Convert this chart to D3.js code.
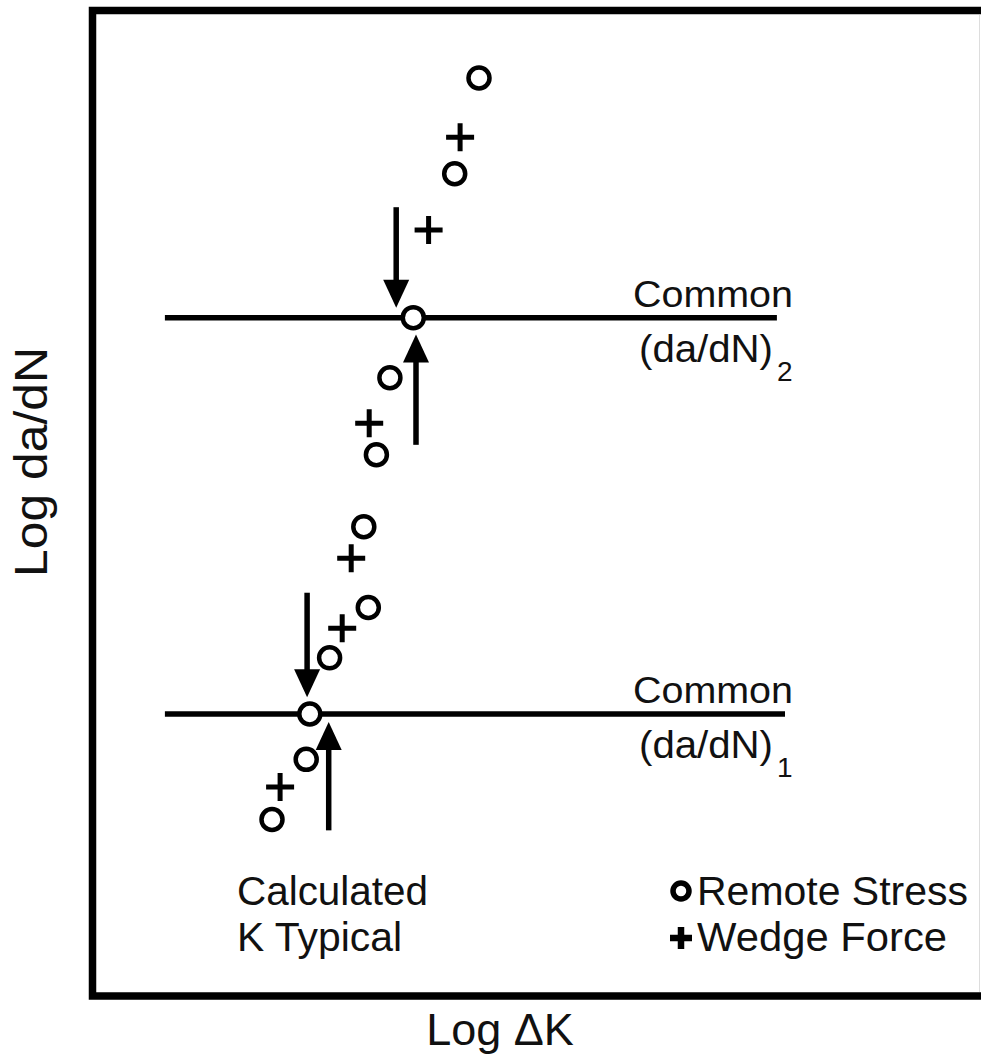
<!DOCTYPE html>
<html>
<head>
<meta charset="utf-8">
<script src="https://cdn.jsdelivr.net/npm/d3@7"></script>
<style>
  body { margin: 0; background: #fff; }
  text { font-family: "Liberation Sans", Arial, sans-serif; fill: #111; }
</style>
</head>
<body>
<div id="chart"></div>
<script>
// arbitrary log units, 0..100 on both axes
const remoteX = [43.0, 40.3, 35.7, 33.1, 31.6, 30.2, 30.7, 26.4, 24.2, 23.8, 20.0];
const remoteY = [93.1, 83.4, 68.8, 62.7, 54.9, 47.6, 39.4, 34.3, 28.6, 24.0, 17.9];
const wedgeX = [40.9, 37.4, 30.8, 28.8, 27.8, 20.9];
const wedgeY = [87.1, 77.7, 58.1, 44.4, 37.3, 21.2];

const commonLevels = [68.8, 28.6];          // (da/dN)2, (da/dN)1
const commonStart = [8.1, 8.1];
const commonEnd = [76.1, 77.0];
const commonSubs = ["2", "1"];

// arrows: x, from y, to y (tip)
const arrowX = [33.8, 36.0, 23.9, 26.3];
const arrowFrom = [80.0, 55.9, 40.9, 16.8];
const arrowTo = [69.8, 67.1, 30.3, 27.8];

const width = 981;
const height = 1061;

const x = d3.scaleLinear().domain([0, 100]).range([92, 992]);
const y = d3.scaleLinear().domain([0, 100]).range([996, 10]);

const svg = d3.select("#chart")
  .append("svg")
  .attr("width", width)
  .attr("height", height);

// frame (right side runs off the picture)
svg.append("rect")
  .attr("x", 92.5).attr("y", 10.5)
  .attr("width", 920).attr("height", 985.5)
  .attr("fill", "none")
  .attr("stroke", "#000")
  .attr("stroke-width", 7.5);
svg.append("line")
  .attr("x1", 979.5).attr("x2", 979.5)
  .attr("y1", 15).attr("y2", 992)
  .attr("stroke", "#ddd").attr("stroke-width", 1);

// common da/dN levels
svg.selectAll(".level")
  .data(commonLevels)
  .enter()
  .append("line")
  .attr("x1", (d, i) => x(commonStart[i]))
  .attr("x2", (d, i) => x(commonEnd[i]))
  .attr("y1", d => y(d))
  .attr("y2", d => y(d))
  .attr("stroke", "#000")
  .attr("stroke-width", 5.5);

commonLevels.forEach((lv, i) => {
  const tx = 633;
  const yy = y(lv);
  svg.append("text")
    .attr("x", tx).attr("y", yy - 11)
    .attr("font-size", 36)
    .attr("textLength", 160).attr("lengthAdjust", "spacingAndGlyphs")
    .text("Common");
  svg.append("text")
    .attr("x", tx + 6).attr("y", yy + 44)
    .attr("font-size", 38)
    .attr("textLength", 134).attr("lengthAdjust", "spacingAndGlyphs")
    .text("(da/dN)");
  svg.append("text")
    .attr("x", 777).attr("y", yy + 63)
    .attr("font-size", 28)
    .text(commonSubs[i]);
});

// arrows
const headW = 13, headH = 28;
arrowX.forEach((ax, i) => {
  const px = x(ax), y0 = y(arrowFrom[i]), y1 = y(arrowTo[i]);
  const dir = y1 > y0 ? 1 : -1;
  svg.append("line")
    .attr("x1", px).attr("x2", px)
    .attr("y1", y0).attr("y2", y1 - dir * (headH - 2))
    .attr("stroke", "#000").attr("stroke-width", 5.5);
  svg.append("path")
    .attr("d", `M${px},${y1} L${px - headW},${y1 - dir * headH} L${px + headW},${y1 - dir * headH} Z`)
    .attr("fill", "#000");
});

// wedge force points
const plus = (s) => `M${-s},0 H${s} M0,${-s} V${s}`;
svg.selectAll(".wedge")
  .data(wedgeX)
  .enter()
  .append("path")
  .attr("transform", (d, i) => `translate(${x(d)},${y(wedgeY[i])})`)
  .attr("d", plus(14))
  .attr("stroke", "#000")
  .attr("stroke-width", 5)
  .attr("fill", "none");

// remote stress points
svg.selectAll(".remote")
  .data(remoteX)
  .enter()
  .append("circle")
  .attr("cx", d => x(d))
  .attr("cy", (d, i) => y(remoteY[i]))
  .attr("r", 10.5)
  .attr("fill", "#fff")
  .attr("stroke", "#000")
  .attr("stroke-width", 4.5);

// annotation bottom left
svg.append("text").attr("x", 237).attr("y", 905)
  .attr("font-size", 40)
  .attr("textLength", 191).attr("lengthAdjust", "spacingAndGlyphs")
  .text("Calculated");
svg.append("text").attr("x", 237).attr("y", 951)
  .attr("font-size", 40)
  .attr("textLength", 165).attr("lengthAdjust", "spacingAndGlyphs")
  .text("K Typical");

// legend
svg.append("circle")
  .attr("cx", 681).attr("cy", 891).attr("r", 8)
  .attr("fill", "#fff").attr("stroke", "#000").attr("stroke-width", 5.5);
svg.append("path")
  .attr("transform", "translate(681,938)")
  .attr("d", plus(11))
  .attr("stroke", "#000").attr("stroke-width", 6.5);
svg.append("text").attr("x", 697).attr("y", 905)
  .attr("font-size", 40)
  .attr("textLength", 271).attr("lengthAdjust", "spacingAndGlyphs")
  .text("Remote Stress");
svg.append("text").attr("x", 697).attr("y", 951)
  .attr("font-size", 40)
  .attr("textLength", 250).attr("lengthAdjust", "spacingAndGlyphs")
  .text("Wedge Force");

// axis titles
svg.append("text")
  .attr("x", 500).attr("y", 1045)
  .attr("text-anchor", "middle")
  .attr("font-size", 45)
  .text("Log \u0394K");
svg.append("text")
  .attr("transform", "translate(47,462) rotate(-90)")
  .attr("text-anchor", "middle")
  .attr("font-size", 46)
  .attr("textLength", 230).attr("lengthAdjust", "spacingAndGlyphs")
  .text("Log da/dN");
</script>
</body>
</html>
